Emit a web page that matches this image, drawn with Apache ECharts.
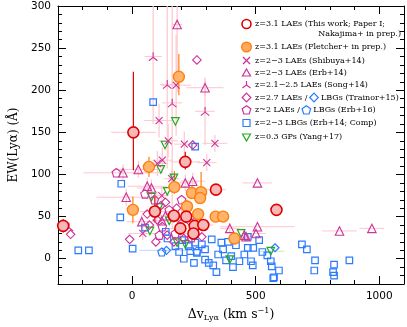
<!DOCTYPE html>
<html>
<head>
<meta charset="utf-8">
<script src="https://cdn.jsdelivr.net/npm/echarts@6/dist/echarts.min.js"></script>
<style>
  html, body { margin: 0; padding: 0; background: #fff; }
  #chart { width: 407px; height: 327px; }
</style>
</head>
<body>
<div id="chart"></div>
<script>
// each point: [dv (km/s), EW (A), dv err, EW err low, EW err high]
const thisWork = [
  [-279, 39, 20, 8, 8], [5, 150, 90, 45, 72], [92, 56, 60, 13, 18], [215, 115, 60, 9, 12],
  [339, 82, 40, 5, 5], [169, 51, 40, 8, 8], [219, 50, 40, 8, 10], [195, 36, 40, 8, 8],
  [253, 39, 40, 6, 6], [288, 40, 40, 7, 7], [248, 30, 40, 6, 6], [584, 58, 0, 0, 0]
]
const fletcher = [
  [189, 216, 0, 22, 27], [68, 109, 0, 12, 12], [3, 58, 0, 16, 16], [171, 85, 0, 8, 19],
  [242, 78, 0, 6, 8], [279, 79, 0, 8, 24], [275, 72, 0, 6, 6], [222, 62, 0, 8, 8],
  [267, 53, 0, 6, 6], [338, 50, 0, 5, 5], [368, 50, 0, 5, 5], [414, 24, 0, 5, 5]
]
const shibuya = [
  [178, 206, 60, 60, 60], [109, 164, 60, 20, 20], [146, 140, 40, 20, 20], [211, 136, 40, 15, 15],
  [335, 137, 50, 10, 10], [122, 117, 40, 15, 15], [102, 113, 40, 15, 15], [302, 114, 40, 10, 10],
  [43, 30, 60, 8, 8], [160, 95, 30, 10, 10], [120, 75, 30, 10, 10]
]
const erb14 = [
  [182, 278, 20, 80, 40], [295, 203, 75, 10, 10], [-37, 102, 160, 10, 10], [25, 106, 100, 10, 10],
  [-24, 73, 120, 10, 10], [39, 44, 60, 8, 8], [61, 86, 80, 10, 10], [78, 84, 60, 10, 10],
  [215, 90, 50, 10, 10], [245, 92, 50, 10, 10], [135, 51, 40, 8, 8], [395, 36, 40, 6, 6],
  [454, 28, 40, 6, 6], [461, 26, 40, 6, 6], [507, 90, 60, 0, 0], [507, 38, 150, 0, 0],
  [501, 30, 40, 0, 0], [839, 33, 70, 0, 0], [970, 36, 50, 0, 0], [120, 45, 40, 5, 5]
]
const song = [
  [85, 240, 35, 80, 60], [142, 207, 30, 100, 93], [162, 185, 40, 150, 115], [295, 175, 40, 40, 40],
  [-256, 38, 0, 0, 0], [100, 60, 30, 20, 20], [200, 48, 30, 20, 20]
]
const trainorLae = [
  [262, 236], [245, 135], [-249, 29], [-10, 23], [61, 53], [96, 20], [169, 20], [142, 28],
  [209, 24], [282, 26], [116, 63], [135, 67], [102, 46], [180, 60], [230, 45], [70, 40]
]
const erb16Lae = [
  [-64, 102], [52, 77], [122, 38], [90, 70], [150, 58], [200, 70], [110, 28], [175, 30],
  [260, 45], [240, 25]
]
const trainorLbg = [[139, 10, 110, 0, 0], [578, 13, 0, 0, 0]]
const erb16Lbg = [[120, 8], [262, 9]]
const erb14Lbg = [
  [85, 186], [-44, 89], [-48, 49], [-218, 10], [-175, 10], [2, 12], [52, 37], [143, 24],
  [175, 15], [209, 0], [235, 9], [262, 7], [295, 11], [295, -1], [341, -16], [328, -8],
  [348, 5], [368, 11], [401, 3], [408, -10], [434, -3], [454, 5], [468, 13], [255, 19],
  [282, 17], [361, 19], [388, 20], [322, 23], [202, 22], [229, 15], [136, 32], [514, 22],
  [490, 13], [468, 26], [527, 8], [547, 4], [561, -3], [565, -9], [574, -22], [594, -14],
  [481, -3], [488, -8], [687, 17], [707, 11], [740, -2], [737, -14], [817, -7], [813, -16],
  [817, -20], [879, -2], [571, -23], [255, 133], [310, -5], [380, -2], [250, -5], [190, 8],
  [420, 16]
]
const yang = [
  [175, 163, 0, 0, 0], [133, 135, 0, 0, 0], [116, 106, 0, 0, 0], [169, 96, 0, 0, 0],
  [78, 73, 0, 0, 0], [72, 33, 0, 0, 0], [109, 61, 0, 0, 0], [182, 19, 0, 0, 0],
  [215, 17, 0, 0, 0], [395, -1, 0, 0, 0], [441, 30, 0, 0, 0], [561, 9, 55, 0, 0],
  [142, 80, 0, 0, 0], [150, 45, 0, 0, 0]
]
const xMajor = [0, 500, 1000]
const yMajor = [0, 50, 100, 150, 200, 250, 300]

const RED = '#e00000'
const ORANGE = '#ff7f0e'
const MAG = '#cc3399'
const BLUE = '#2b7bff'
const GREEN = '#22aa22'
const PINK = '#ffc6cc'
const NONE = 'rgba(0,0,0,0)'

const CROSS = 'path://M0,0L10,10M10,0L0,10'
const TRISTAR = 'path://M5,0L5,5M5,5L0.7,8.5M5,5L9.3,8.5'
const DIAMOND = 'path://M5,0L10,5L5,10L0,5Z'
const PENTA = 'path://M5,0L10,3.6L8.1,9.5L1.9,9.5L0,3.6Z'
const DTRI = 'path://M0,0L10,0L5,8.7Z'

const chart = echarts.init(document.getElementById('chart'))

// error bars drawn through the axis scale
const errSeries = (data, xCol, yCol, z) => ({
  type: 'custom',
  data: data,
  z: z,
  silent: true,
  clip: true,
  encode: { x: 0, y: 1 },
  renderItem: (params, api) => {
    const x = api.value(0), y = api.value(1)
    const dx = api.value(2), lo = api.value(3), hi = api.value(4)
    const kids = []
    if (dx) {
      const a = api.coord([x - dx, y]), b = api.coord([x + dx, y])
      kids.push({ type: 'line', shape: { x1: a[0], y1: a[1], x2: b[0], y2: b[1] }, style: { stroke: xCol, lineWidth: 1 } })
    }
    if (lo || hi) {
      const a = api.coord([x, y - lo]), b = api.coord([x, y + hi])
      kids.push({ type: 'line', shape: { x1: a[0], y1: a[1], x2: b[0], y2: b[1] }, style: { stroke: yCol, lineWidth: 1.2 } })
    }
    return { type: 'group', children: kids }
  }
})

const pts = (data, symbol, size, stroke, fill, z, bw) => ({
  type: 'scatter',
  data: data.map(d => [d[0], d[1]]),
  symbol: symbol,
  symbolSize: size,
  itemStyle: { color: fill, borderColor: stroke, borderWidth: bw || 1, opacity: 1 },
  z: z,
  silent: true
})

const tickFont = { color: '#000', fontFamily: 'DejaVu Sans', fontSize: 10.5 }
const lineSt = { color: '#000', width: 1 }
const baseX = { type: 'value', min: -300, max: 1100, splitLine: { show: false } }
const baseY = { type: 'value', min: -30, max: 300, splitLine: { show: false } }
const shownLine = { onZero: false, lineStyle: lineSt }
const hiddenLine = { show: false, onZero: false }

// legend built from plain graphic shapes
const LX = 246.5, TX = 255
const font = '8px "DejaVu Serif"'
const measure = document.createElement('canvas').getContext('2d')
measure.font = font
const w = s => measure.measureText(s).width
const txt = (x, y, text, align) => ({ type: 'text', x: x, y: y, style: { text: text, font: font, fill: '#000', align: align || 'left', verticalAlign: 'middle' } })
const poly = (cx, cy, pts, stroke, closed) => ({
  type: closed ? 'polygon' : 'polyline',
  shape: { points: pts.map(p => [cx + p[0], cy + p[1]]) },
  style: { stroke: stroke, fill: closed ? NONE : null, lineWidth: 1.2 }
})
const diamondPts = [[0, -4.3], [4.3, 0], [0, 4.3], [-4.3, 0]]
const pentaPts = [[0, -4.3], [4.3, -1.2], [2.7, 4], [-2.7, 4], [-4.3, -1.2]]
const d6 = TX + w('z=2.7 LAEs / ') + 4
const p7 = TX + w('z~2 LAEs / ') + 4
const legend = [
  { type: 'circle', shape: { cx: LX, cy: 24, r: 4.5 }, style: { stroke: RED, fill: '#fff', lineWidth: 1.6 } },
  txt(TX, 24, 'z=3.1 LAEs (This work; Paper I;'),
  txt(401, 33.5, 'Nakajima+ in prep.)', 'right'),
  { type: 'circle', shape: { cx: LX, cy: 47, r: 4.8 }, style: { stroke: ORANGE, fill: '#ffab5e', lineWidth: 1.4 } },
  txt(TX, 47, 'z=3.1 LAEs (Fletcher+ in prep.)'),
  poly(LX, 60.5, [[-3.5, -3.5], [3.5, 3.5]], MAG), poly(LX, 60.5, [[3.5, -3.5], [-3.5, 3.5]], MAG),
  txt(TX, 60.5, 'z=2\u22123 LAEs (Shibuya+14)'),
  poly(LX, 73, [[0, -4], [4, 3], [-4, 3]], MAG, true),
  txt(TX, 73, 'z=2\u22123 LAEs (Erb+14)'),
  poly(LX, 85, [[0, -4], [0, 0], [-4, 3]], MAG), poly(LX, 85, [[0, 0], [4, 3]], MAG),
  txt(TX, 85, 'z=2.1\u22122.5 LAEs (Song+14)'),
  poly(LX, 97.5, diamondPts, MAG, true),
  txt(TX, 97.5, 'z=2.7 LAEs /'),
  poly(d6, 97.5, diamondPts, BLUE, true),
  txt(d6 + 7, 97.5, 'LBGs (Trainor+15)'),
  poly(LX, 110, pentaPts, MAG, true),
  txt(TX, 110, 'z~2 LAEs /'),
  poly(p7, 110, pentaPts, BLUE, true),
  txt(p7 + 7, 110, 'LBGs (Erb+16)'),
  { type: 'rect', shape: { x: LX - 3.5, y: 123 - 3.5, width: 7, height: 7 }, style: { stroke: BLUE, fill: NONE, lineWidth: 1.2 } },
  txt(TX, 123, 'z=2\u22123 LBGs (Erb+14; Comp)'),
  poly(LX, 137, [[-4, -3], [4, -3], [0, 4]], GREEN, true),
  txt(TX, 137, 'z=0.3 GPs (Yang+17)')
]

const option = {
  animation: false,
  backgroundColor: '#fff',
  grid: { left: 54, right: 3, top: 6, bottom: 36.5 },
  xAxis: [
    Object.assign({}, baseX, {
      position: 'bottom', interval: 100,
      axisLine: shownLine,
      axisTick: { inside: true, length: 4, lineStyle: lineSt },
      axisLabel: Object.assign({}, tickFont, { margin: 7, formatter: v => (v % 500 === 0 ? String(v) : '') }),
      name: '\u0394v{sub|Ly\u03b1} (km s{sup|\u22121})',
      nameLocation: 'middle', nameGap: 23,
      nameTextStyle: {
        fontFamily: 'DejaVu Serif', fontSize: 12.5, color: '#000',
        rich: {
          sub: { fontFamily: 'DejaVu Serif', fontSize: 8, verticalAlign: 'bottom', padding: [7, 0, 0, 0] },
          sup: { fontFamily: 'DejaVu Serif', fontSize: 8, verticalAlign: 'top', padding: [0, 0, 6, 0] }
        }
      }
    }),
    Object.assign({}, baseX, {
      position: 'bottom', axisLine: hiddenLine, axisLabel: { show: false },
      axisTick: { inside: true, length: 8, lineStyle: lineSt, customValues: xMajor }
    }),
    Object.assign({}, baseX, {
      position: 'top', interval: 100, axisLine: shownLine, axisLabel: { show: false },
      axisTick: { inside: true, length: 4, lineStyle: lineSt }
    }),
    Object.assign({}, baseX, {
      position: 'top', axisLine: hiddenLine, axisLabel: { show: false },
      axisTick: { inside: true, length: 8, lineStyle: lineSt, customValues: xMajor }
    })
  ],
  yAxis: [
    Object.assign({}, baseY, {
      position: 'left', interval: 10,
      axisLine: shownLine,
      axisTick: { inside: true, length: 4, lineStyle: lineSt },
      axisLabel: Object.assign({}, tickFont, { margin: 7, formatter: v => (v % 50 === 0 ? String(v) : '') }),
      name: 'EW(Ly\u03b1) (\u00c5)', nameLocation: 'middle', nameGap: 38, nameRotate: 90,
      nameTextStyle: { fontFamily: 'DejaVu Serif', fontSize: 12, color: '#000' }
    }),
    Object.assign({}, baseY, {
      position: 'left', axisLine: hiddenLine, axisLabel: { show: false },
      axisTick: { inside: true, length: 8, lineStyle: lineSt, customValues: yMajor }
    }),
    Object.assign({}, baseY, {
      position: 'right', interval: 10, axisLine: shownLine, axisLabel: { show: false },
      axisTick: { inside: true, length: 4, lineStyle: lineSt }
    }),
    Object.assign({}, baseY, {
      position: 'right', axisLine: hiddenLine, axisLabel: { show: false },
      axisTick: { inside: true, length: 8, lineStyle: lineSt, customValues: yMajor }
    })
  ],
  series: [
    errSeries(song, PINK, PINK, 1),
    errSeries(shibuya, PINK, PINK, 1),
    errSeries(erb14, PINK, PINK, 1),
    errSeries(trainorLbg, '#bcd8ff', '#bcd8ff', 1),
    errSeries(yang, '#b8f0b8', '#b8f0b8', 1),
    errSeries(thisWork, PINK, RED, 2),
    errSeries(fletcher, PINK, ORANGE, 2),
    pts(erb14Lbg, 'rect', 6.5, BLUE, NONE, 3, 1.2),
    pts(erb16Lbg, PENTA, 8, BLUE, NONE, 3, 1.2),
    pts(trainorLbg, DIAMOND, 8, BLUE, NONE, 3, 1.2),
    pts(yang, DTRI, 7.5, GREEN, NONE, 4, 1.2),
    pts(erb16Lae, PENTA, 8.5, MAG, NONE, 4, 1.1),
    pts(trainorLae, DIAMOND, 8.5, MAG, NONE, 4, 1.1),
    pts(erb14, 'triangle', 8.5, MAG, NONE, 4, 1.1),
    pts(shibuya, CROSS, 7, MAG, NONE, 4, 1.1),
    pts(song, TRISTAR, 8.5, MAG, NONE, 4, 1.1),
    pts(fletcher, 'circle', 11, ORANGE, '#ffb36b', 5, 1.4),
    pts(thisWork, 'circle', 11, RED, '#f9b8b8', 6, 1.6)
  ],
  graphic: legend
}

chart.setOption(option)
</script>
</body>
</html>
